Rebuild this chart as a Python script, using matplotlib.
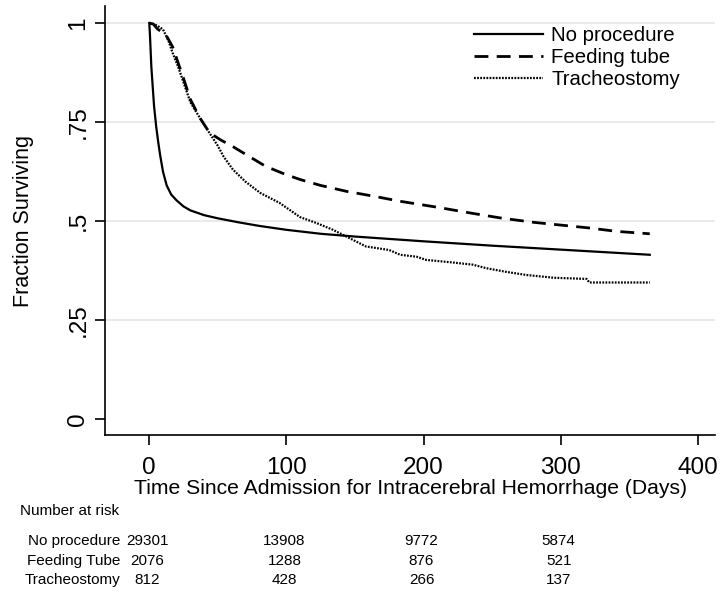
import matplotlib
matplotlib.use('Agg')
import matplotlib.pyplot as plt

plt.rcParams['font.family'] = ['Liberation Sans', 'DejaVu Sans']

# survival curves (days, fraction surviving)
days_none = [0, 0.5, 1, 1.5, 2.5, 3.5, 5, 6.5, 8, 10, 12.7, 16, 20, 25, 30, 40,
             50, 65, 80, 100, 125, 150, 175, 200, 250, 300, 365]
surv_none = [1.0, 0.97, 0.93, 0.89, 0.84, 0.79, 0.74, 0.70, 0.665, 0.625, 0.59,
             0.567, 0.552, 0.537, 0.527, 0.515, 0.507, 0.497, 0.488, 0.478,
             0.468, 0.461, 0.455, 0.449, 0.438, 0.428, 0.415]

days_tube = [0, 3, 6, 10, 13, 17, 20, 25, 30, 37, 44, 52, 61, 72, 85, 100, 110,
             125, 144, 165, 183, 210, 235, 256, 280, 300, 320, 341, 365]
surv_tube = [1.0, 0.997, 0.985, 0.975, 0.965, 0.94, 0.91, 0.86, 0.807, 0.76,
             0.723, 0.705, 0.688, 0.665, 0.638, 0.617, 0.605, 0.59, 0.575, 0.562,
             0.55, 0.535, 0.52, 0.508, 0.497, 0.49, 0.483, 0.474, 0.468]

days_trach = [0, 3, 6, 10, 14, 17, 21, 25, 30, 37, 44, 50, 54, 61, 70, 81, 95,
              110, 122, 134, 146, 158, 175, 183, 195, 202, 220, 236, 246, 260,
              275, 295, 319, 321, 365]
surv_trach = [1.0, 0.998, 0.993, 0.984, 0.955, 0.925, 0.89, 0.85, 0.8, 0.76,
              0.722, 0.69, 0.664, 0.63, 0.6, 0.571, 0.546, 0.51, 0.495, 0.478,
              0.457, 0.436, 0.427, 0.415, 0.41, 0.402, 0.396, 0.39, 0.381, 0.372,
              0.364, 0.357, 0.354, 0.345, 0.345]

# number at risk table
risk_days = [0, 100, 200, 300]
risk_groups = ['No procedure', 'Feeding Tube', 'Tracheostomy']
risk_none = [29301, 13908, 9772, 5874]
risk_tube = [2076, 1288, 876, 521]
risk_trach = [812, 428, 266, 137]

xticks = [0, 100, 200, 300, 400]
yticks = [0, 0.25, 0.5, 0.75, 1]
ytick_labels = ['0', '.25', '.5', '.75', '1']

fig = plt.figure(figsize=(7.24, 5.93), dpi=100)
ax = fig.add_axes([0.145, 0.2664, 0.8426, 0.7235])

ax.plot(days_none, surv_none, color='black', lw=1.6, label='No procedure')
ax.plot(days_tube, surv_tube, color='black', lw=2.0, dashes=(5, 3),
        label='Feeding tube')
ax.plot(days_trach, surv_trach, color='black', lw=1.6, dashes=(0.8, 0.6),
        label='Tracheostomy')

ax.set_xlim(-32.3, 412.6)
ax.set_ylim(-0.040, 1.043)
ax.set_xticks(xticks)
ax.set_yticks(yticks)
ax.set_yticklabels(ytick_labels, rotation=90, va='center')
ax.tick_params(labelsize=17.5, length=7.2, width=1.2, direction='out')
ax.tick_params(axis='x', pad=8.5)
ax.tick_params(axis='y', pad=4)
for t in [0.25, 0.5, 0.75, 1]:
    ax.axhline(t, color='#e6e6e6', lw=1.2, zorder=0)
for s in ['top', 'right']:
    ax.spines[s].set_visible(False)
for s in ['left', 'bottom']:
    ax.spines[s].set_linewidth(1.2)

ax.set_xlabel('Time Since Admission for Intracerebral Hemorrhage (Days)',
              fontsize=15.2, labelpad=0)
ax.set_ylabel('Fraction Surviving', fontsize=15.5, labelpad=24)

leg = ax.legend(loc='upper right', bbox_to_anchor=(0.956, 0.973), frameon=False,
                fontsize=14.7, handlelength=3.4, handletextpad=0.4,
                labelspacing=0.15, borderaxespad=0)

# risk table below the axes
tf = dict(family=['Liberation Sans Narrow', 'Liberation Sans'], fontsize=11)
fig.text(20 / 724, 1 - 511 / 593, 'Number at risk', va='center', **tf)
row_y = [541, 561, 580]
for name, counts, py in zip(risk_groups, [risk_none, risk_tube, risk_trach], row_y):
    fig.text(120 / 724, 1 - py / 593, name, ha='right', va='center', **tf)
    for d, n in zip(risk_days, counts):
        xf = ax.transData.transform((d, 0))[0] / fig.bbox.width
        fig.text(xf - 2 / 724, 1 - py / 593, str(n), ha='center', va='center', **tf)

fig.savefig('out.png', dpi=100)
